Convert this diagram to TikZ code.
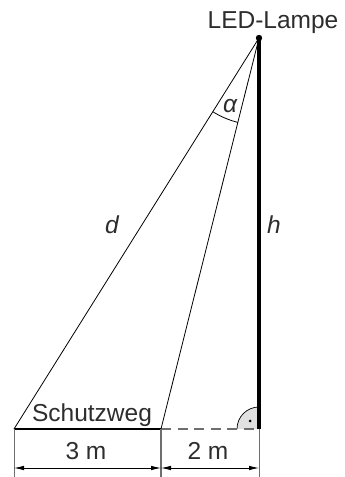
\documentclass[tikz,border=0pt]{standalone}
\usepackage{fontspec}
\setmainfont{Liberation Sans}
\usetikzlibrary{arrows.meta,calc}
\definecolor{txt}{RGB}{45,45,45}
\definecolor{dimgray}{RGB}{110,110,110}
\definecolor{markfill}{RGB}{225,225,225}
\begin{document}
\begin{tikzpicture}[x=1pt,y=1pt,
  lbl/.style={inner sep=0pt,anchor=base,text=txt,font=\fontsize{24.5}{29}\selectfont},
  ilbl/.style={lbl,font=\fontsize{24.5}{29}\selectfont\itshape},
  thin/.style={line width=0.8pt,black},
  pole/.style={line width=3.2pt,black},
  walk/.style={line width=2.2pt,black},
  ext/.style={line width=0.9pt,dimgray},
  dimline/.style={line width=0.8pt,black,{Latex[length=10pt,width=4.5pt]}-{Latex[length=10pt,width=4.5pt]}},
  dashline/.style={line width=1.1pt,dimgray,dash pattern=on 10pt off 6.5pt}
]
\useasboundingbox (0,0) rectangle (345,477);
% points
\coordinate (L) at (259,439);
\coordinate (A) at (14,48);
\coordinate (M) at (161,48);
\coordinate (F) at (259,48);
\coordinate (Ab) at (14,0);
\coordinate (Mb) at (161,0);
\coordinate (Fb) at (259,0);
\coordinate (Ad) at (14,9);
\coordinate (Md) at (161,9);
\coordinate (Fd) at (259,9);
% right angle mark
\fill[markfill] (F) -- ++(-22,0) arc[start angle=180,end angle=90,radius=22pt] -- cycle;
\draw[line width=0.7pt,black] ([shift={(180:22pt)}]F) arc[start angle=180,end angle=90,radius=22pt];
\fill[black] ($(F)+(-9,8)$) circle (1.5pt);
% dashed
\draw[dashline] (M) -- (F);
% lines
\draw[thin] (L) -- (A);
\draw[thin] (L) -- (M);
\draw[walk] (A) -- (M);
\draw[pole] (F) -- (L);
% angle
\draw[thin] ([shift={(237.93:87pt)}]L) arc[start angle=237.93,end angle=255.93,radius=87pt];
% lamp dot
\fill[black] (L) circle (3.2pt);
% dimensions
\draw[ext] (A) -- (Ab);
\draw[ext,line width=1.4pt] (M) -- (Mb);
\draw[ext] (F) -- (Fb);
\draw[dimline] (Ad) -- (Md);
\draw[dimline] (Md) -- (Fd);
% labels
\node[lbl] (lamp) at (273,448.5) {LED-Lampe};
\node[lbl] (sw) at (92,55.5) {Schutzweg};
\node[lbl] (d3) at (86,17.7) {3 m};
\node[lbl] (d2) at (208,17.7) {2 m};
\node[ilbl] (dl) at (112,243) {d};
\node[ilbl] (hl) at (274,243) {h};
\node[ilbl] (al) at (230,364) {α};
\end{tikzpicture}
\end{document}
